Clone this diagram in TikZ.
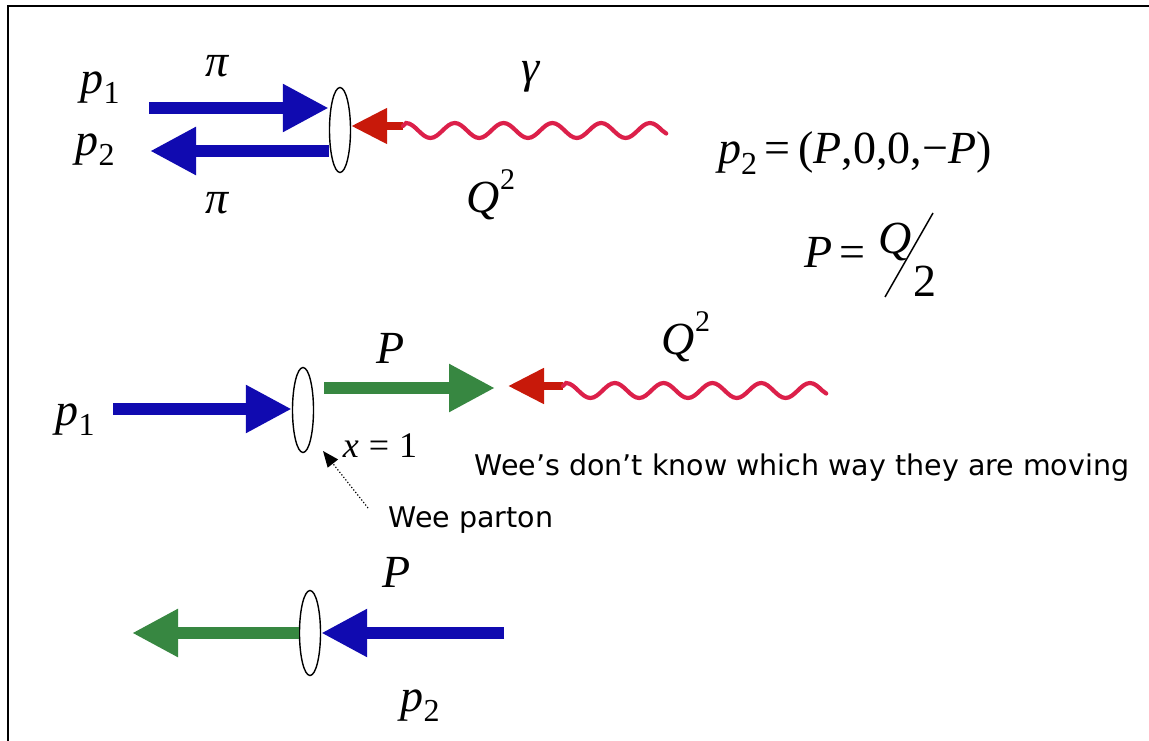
\documentclass[tikz,border=0pt]{standalone}
\usepackage{fontspec}
\setmainfont{Liberation Serif}
\newfontfamily\sns{DejaVu Sans}
\usetikzlibrary{arrows.meta,shapes.geometric}
\definecolor{ablue}{RGB}{16,10,176}
\definecolor{agreen}{RGB}{55,135,65}
\definecolor{ared}{RGB}{200,25,10}
\definecolor{awave}{RGB}{220,32,74}
\newcommand{\lsub}[1]{\raisebox{-0.22em}{\fontsize{32}{32}\selectfont\upshape #1}}
\newcommand{\lsup}[1]{\raisebox{0.5em}{\fontsize{30}{30}\selectfont\upshape #1}}
\begin{document}
\begin{tikzpicture}[x=1pt,y=-1pt,
  lab/.style={inner sep=0pt, font=\fontsize{46}{50}\selectfont\itshape},
  small/.style={inner sep=0pt, font=\fontsize{36}{40}\selectfont\itshape},
  note/.style={inner sep=0pt, font=\fontsize{28.5}{32}\selectfont\sns},
  blob/.style={draw=black, line width=1.4pt, fill=white, ellipse, inner sep=0pt, minimum width=21pt, minimum height=85pt},
  bluearr/.style={draw=ablue, line width=12pt, -{Triangle[length=46pt,width=45pt]}},
  greenarr/.style={draw=agreen, line width=12pt, -{Triangle[length=46pt,width=45pt]}},
  redarr/.style={draw=ared, line width=8pt, -{Triangle[length=36pt,width=34pt]}},
  wave/.style={draw=awave, line width=4.2pt, line cap=round},
  pointer/.style={draw=black, line width=1.2pt, dotted, -{Triangle[length=16pt,width=13pt]}},
  border/.style={draw=black, line width=2pt}
]
\useasboundingbox (0,0) rectangle (1149,741);
\fill[white] (0,0) rectangle (1149,741);
\draw[border] (8,741) -- (8,6) -- (1149,6);

% ---------- top ----------
\node[blob] (e1) at (340,130) {};
\coordinate (b1s) at (149,108);
\coordinate (b2e) at (150,151);
\coordinate (w1) at (403,126);
\draw[bluearr] (b1s) -- (b1s -| e1.west);
\draw[bluearr] (b2e -| e1.west) -- (b2e);
\draw[redarr] (w1) -- (w1 -| e1.east);
\draw[wave] (w1) -- ++(3,-3)
  \foreach \i in {1,...,5} { cos ++(12.2,7.5) sin ++(12.2,7.5) cos ++(12.2,-7.5) sin ++(12.2,-7.5) }
  cos ++(12.2,7.5) -- ++(4,3);
\node[lab] (p1a) at (100,88) {p\lsub{1}};
\node[lab] (p2a) at (95,150) {p\lsub{2}};
\node[lab] (pia) at (217,66) {π};
\node[lab] (pib) at (217,203) {π};
\node[lab] (gam) at (531,77) {γ};
\node[lab] (q2a) at (491,195) {Q\lsup{2}};

% ---------- formulas ----------
\node[lab] (f1) at (855,153) {p\lsub{2}{\upshape\,=\,(}P{\upshape,0,0,−}P{\upshape)}};
\node[lab, anchor=east] (f2) at (866,252) {P{\upshape\,=}};
\node[lab] (f2q) at (895,242) {Q};
\node[lab] (f2d) at (925,281) {\upshape 2};
\draw[line width=1.5pt] (885,297) -- (933,213);

% ---------- middle ----------
\node[blob] (e2) at (303,410) {};
\coordinate (b3s) at (113,409);
\coordinate (g1s) at (324,388);
\coordinate (g1e) at (495,388);
\coordinate (w2) at (563,386);
\coordinate (r2e) at (508,386);
\draw[bluearr] (b3s) -- (b3s -| e2.west);
\draw[greenarr] (g1s) -- (g1e);
\draw[redarr] (w2) -- (r2e);
\draw[wave] (w2) -- ++(3,-3)
  \foreach \i in {1,...,5} { cos ++(12.2,7.5) sin ++(12.2,7.5) cos ++(12.2,-7.5) sin ++(12.2,-7.5) }
  cos ++(12.2,7.5) -- ++(4,3);
\node[lab] (p1b) at (75,420) {p\lsub{1}};
\node[lab] (Pb) at (391,348) {P};
\node[lab] (q2b) at (686,337) {Q\lsup{2}};
\node[small] (x1) at (380,446) {x{\upshape\;=\;1}};
\node[note] (wees) at (802,468) {Wee’s don’t know which way they are moving};
\node[note] (wp) at (471,520) {Wee parton};
\coordinate (wps) at (368,508);
\coordinate (wpt) at (323,451);
\draw[pointer] (wps) -- (wpt);

% ---------- bottom ----------
\node[blob] (e3) at (310,633) {};
\coordinate (g2e) at (132,633);
\coordinate (b4s) at (504,633);
\draw[greenarr] (e3.west) -- (g2e);
\draw[bluearr] (b4s) -- (e3.east);
\node[lab] (Pc) at (397,572) {P};
\node[lab] (p2c) at (420,706) {p\lsub{2}};
\end{tikzpicture}
\end{document}
